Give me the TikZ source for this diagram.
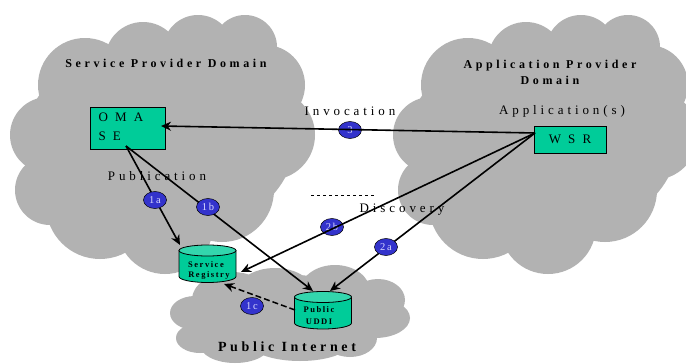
\documentclass[tikz,border=0pt]{standalone}
\usepackage{fontspec}
\setmainfont{Liberation Serif}
\newfontfamily\lsA[LetterSpace=30]{Liberation Serif}
\newfontfamily\lsB[LetterSpace=30]{Liberation Serif}
\newfontfamily\lsC[LetterSpace=18]{Liberation Serif}
\newfontfamily\lsD[LetterSpace=26]{Liberation Serif}
\usetikzlibrary{arrows.meta,shapes.geometric}
\definecolor{cloudgray}{HTML}{B2B2B2}
\definecolor{boxgreen}{HTML}{00CC99}
\definecolor{boxtop}{HTML}{33D6AD}
\definecolor{badgeblue}{HTML}{3333CC}
\tikzset{
  cloudfill/.style={fill=cloudgray,draw=none},
  greenbox/.style={rectangle,draw=black,line width=0.8pt,fill=boxgreen,inner sep=0pt,font=\lsB\fontsize{13}{15}\selectfont,text=black},
  drum/.style={rectangle,draw=none,minimum width=57pt,minimum height=38pt,inner sep=0pt},
  drumbody/.style={draw=black,line width=0.8pt,fill=boxgreen},
  drumcap/.style={draw=black,line width=0.8pt,fill=boxtop},
  drumtext/.style={inner sep=0pt,font=\lsC\bfseries\fontsize{8.5}{10}\selectfont,text=black},
  badge/.style={ellipse,draw=black,line width=0.5pt,fill=badgeblue,minimum width=23pt,minimum height=17pt,inner sep=0pt,text=white!85!blue,font=\lsC\fontsize{10.5}{10}\selectfont},
  flow/.style={draw=black,line width=1.6pt,-{Stealth[length=10pt,width=9pt]}},
  heading/.style={font=\lsA\bfseries\fontsize{12}{16}\selectfont,align=center,text=black},
  plainlabel/.style={font=\lsB\fontsize{13}{15}\selectfont,text=black},
}
\newcommand{\bigcloud}{%
  \fill[cloudfill] (160,140) ellipse [x radius=135,y radius=100];
  \foreach \cx/\cy/\r in {245/47/32,198/50/35,143/60/38,85/85/47,48/135/38,265/85/40,270/135/45,222/190/52,165/226/48,100/205/54,50/190/35}{
    \fill[cloudfill] (\cx,\cy) circle [radius=\r];
  }%
}
\newcommand{\lowtext}[1]{\raisebox{-2pt}{#1}}
\newcommand{\drumshape}[1]{%
  \begin{scope}[shift={(#1.center)}]
    \path[drumbody] (-28.5,-13) -- (-28.5,13) arc [start angle=180,end angle=0,x radius=28.5,y radius=6] -- (28.5,-13) -- cycle;
    \path[drumcap] (0,-13) ellipse [x radius=28.5,y radius=5.5];
  \end{scope}%
}
\begin{document}
\begin{tikzpicture}[x=1pt,y=-1pt]
\useasboundingbox (0,0) rectangle (686,364);
\clip (0,0) rectangle (686,364);
\fill[white] (0,0) rectangle (686,364);
% clouds
\bigcloud
\begin{scope}[xshift=383pt]
\bigcloud
\end{scope}
\foreach \cx/\cy/\rx/\ry in {290/315/95/40,195/313/25/17,200/338/24/15,232/300/40/28,275/295/40/27,335/291/35/26,378/300/27/21,375/318/35/20,350/338/27/19,235/345/35/18,300/343/50/18}{
  \fill[cloudfill] (\cx,\cy) ellipse [x radius=\rx,y radius=\ry];
}
% boxes
\node[greenbox,minimum width=75pt,minimum height=42pt] (oma) at (127.5,128) {};
\node[greenbox,minimum width=72pt,minimum height=27pt] (wsr) at (570,139.5) {W S R};
\node[plainlabel,anchor=west] (omaa) at (95,117.5) {O M A};
\node[plainlabel,anchor=west] (omab) at (95,136.5) {S E};
\node[drum] (reg) at (207.5,263.5) {};
\node[drum] (uddi) at (323,310) {};
\drumshape{reg}
\drumshape{uddi}
\node[drumtext] (rega) at (206,265) {Service};
\node[drumtext] (regb) at (209,275) {Registry};
\node[drumtext] (uddia) at (319,310) {Public};
\node[drumtext] (uddib) at (319,322) {UDDI};
% badges under lines
\node[badge] (b3) at (350,130) {\lowtext{3}};
\node[badge] (b2b) at (332,227) {\lowtext{2b}};
% connectors
\draw[flow] ([shift={(-35,-6.5)}]wsr.center) -- ([shift={(33.5,-2)}]oma.center);
\draw[flow] ([shift={(-35,-6.5)}]wsr.center) -- ([shift={(33.5,8.5)}]reg.center);
\draw[flow] ([shift={(-35,-6.5)}]wsr.center) -- ([shift={(7,-19)}]uddi.center);
\draw[flow] ([shift={(-1.5,18)}]oma.center) -- ([shift={(-27.5,-18.5)}]reg.center);
\draw[flow] ([shift={(-1.5,18)}]oma.center) -- ([shift={(-10,-19)}]uddi.center);
\draw[flow,dash pattern=on 6pt off 3pt,line width=1.5pt] ([shift={(-28,0)}]uddi.center) -- ([shift={(16.5,20.5)}]reg.center);
% badges over lines
\node[badge] (b1a) at (155,200) {\lowtext{1a}};
\node[badge] (b1b) at (208,207) {\lowtext{1b}};
\node[badge] (b2a) at (386,247) {\lowtext{2a}};
\node[badge] (b1c) at (252,306) {\lowtext{1c}};
% dashed rule
\coordinate (ruleA) at (311,195);
\coordinate (ruleB) at (374,195);
\draw[dashed,line width=0.6pt] (ruleA) -- (ruleB);
% labels
\node[heading] (spd) at (166,63) {Service Provider Domain};
\node[heading] (apd) at (550,72) {Application Provider\\Domain};
\node[heading,font=\lsD\bfseries\fontsize{14}{16}\selectfont] (pi) at (287,347) {Public Internet};
\node[plainlabel] (inv) at (350,111) {Invocation};
\node[plainlabel] (app) at (562,111) {Application(s)};
\node[plainlabel] (pub) at (157,176) {Publication};
\node[plainlabel] (dis) at (402,210) {Discovery};
\end{tikzpicture}
\end{document}
